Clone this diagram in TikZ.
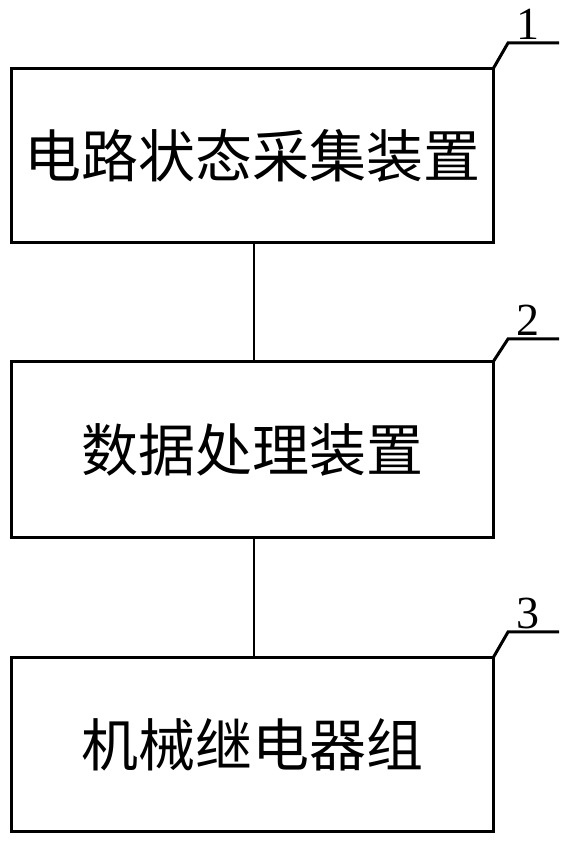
\documentclass[tikz,border=0pt]{standalone}
\usepackage{fontspec}
\setmainfont{Liberation Serif}
\newfontfamily\cjk{Noto Sans CJK SC}
\usetikzlibrary{positioning, calc}

\tikzset{
  blk/.style={draw, line width=3pt, outer sep=0pt, minimum width=482pt,
              minimum height=174pt, font=\cjk\fontsize{57}{62}\selectfont},
  lead/.style={line width=3pt},
  tag/.style={above, inner sep=1.5pt, font=\fontsize{46}{50}\selectfont}
}

\begin{document}
\begin{tikzpicture}[x=1pt, y=1pt]

    \useasboundingbox (0,0) rectangle (569,846);

    % --- Blocks ---
    \node[blk] (acq) at (252,690) {电路状态采集装置};
    \node[blk, minimum height=176pt] (proc) at (252,396) {数据处理装置};
    \node[blk] (relay) at (252,101) {机械继电器组};

    % --- Connections ---
    \draw[line width=2.5pt] ($(acq.south)+(2,0)$) -- ($(proc.north)+(2,0)$);
    \draw[line width=2.5pt] ($(proc.south)+(2,0)$) -- ($(relay.north)+(2,0)$);

    % --- Reference numbers ---
    \draw[lead] (acq.north east) -- ++(15,26) -- ++(51,0) node[tag, pos=0.4] (n1) {1};
    \draw[lead] (proc.north east) -- ++(15,23) -- ++(51,0) node[tag, pos=0.4] (n2) {2};
    \draw[lead] (relay.north east) -- ++(15,26) -- ++(51,0) node[tag, pos=0.4] (n3) {3};

\end{tikzpicture}
\end{document}
